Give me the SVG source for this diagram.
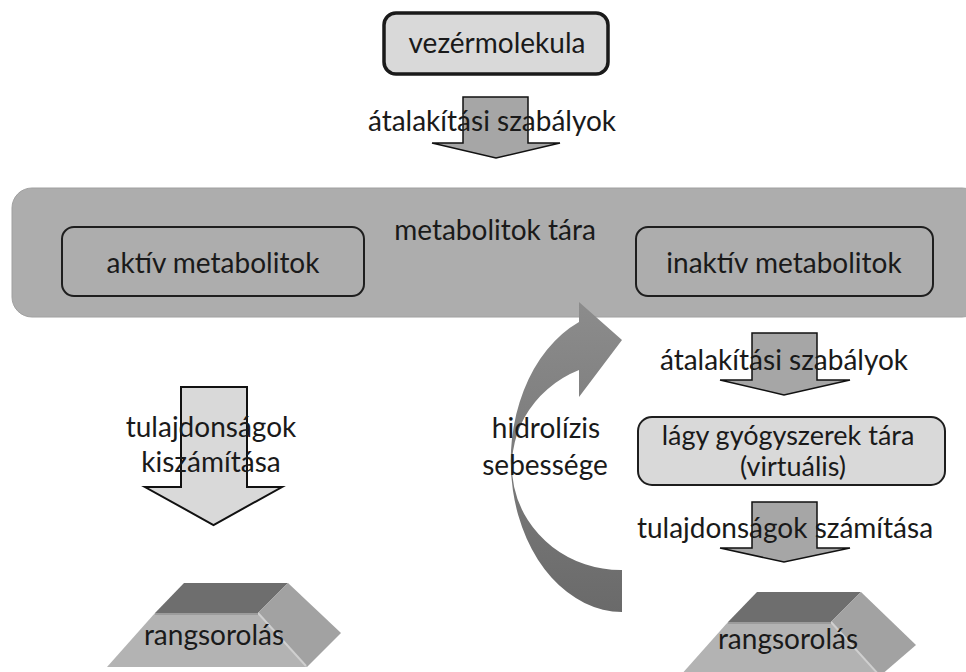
<svg xmlns="http://www.w3.org/2000/svg" width="966" height="672" viewBox="0 0 966 672">
<style>
text{font-family:Lato,"Liberation Sans",sans-serif;font-size:28px;fill:#1a1a1a;text-anchor:middle}
.box{fill:#d9d9d9;stroke:#1e1e1e;stroke-width:2}
.lead{fill:#d9d9d9;stroke:#1a1a1a;stroke-width:3.5}
.inner{fill:none;stroke:#1e1e1e;stroke-width:2}
.darr{fill:#a6a6a6;stroke:#111;stroke-width:1.5}
.larr{fill:#d9d9d9;stroke:#111;stroke-width:2}
.ptop{fill:#6e6e6e}
.pfront{fill:#b3b3b3}
.pright{fill:#a2a2a2}
.hl{stroke:#cfcfcf;stroke-width:2;fill:none}
.edge{stroke:#9c9c9c;stroke-width:2;fill:none}
.sm{font-size:27px}
</style>
<defs>
<linearGradient id="cg" x1="0" y1="302" x2="0" y2="612" gradientUnits="userSpaceOnUse">
<stop offset="0" stop-color="#8c8c8c"/>
<stop offset="1" stop-color="#6a6a6a"/>
</linearGradient>
</defs>
<rect width="966" height="672" fill="#ffffff"/>

<g id="pool">
<rect x="12" y="188" width="970" height="129" rx="20" fill="#adadad" stroke="#a0a0a0" stroke-width="1"/>
<text x="495" y="240">metabolitok tára</text>
</g>
<g id="active">
<rect class="inner" x="62" y="227" width="302" height="69" rx="12"/>
<text x="213" y="273">aktív metabolitok</text>
</g>
<g id="inactive">
<rect class="inner" x="636" y="227" width="297" height="69" rx="12"/>
<text x="784" y="273">inaktív metabolitok</text>
</g>

<g id="connectors">
<path class="darr" d="M463,97 H528 V143 H560 L496,158 L432,143 H463 Z"/>
<path class="larr" d="M181,387 H247 V487 H282 L213.5,525 L145,487 H181 Z"/>
<path class="darr" d="M752,333 H817 V380 H850 L784,395 L720,380 H752 Z"/>
<path class="darr" d="M752,502 H817 V548 H850 L784,562 L720,548 H752 Z"/>
<path id="hydrolysis-arrow" fill="url(#cg)" d="M622,612 A112,151 0 0 1 579,322 L579,302 L622,340 L579,397 L579,370 A109,104 0 0 0 622,570 Z"/>
</g>

<g id="lead">
<rect class="lead" x="384" y="13" width="224" height="61" rx="12"/>
<text x="497" y="53">vezérmolekula</text>
</g>
<g id="label-transform-top"><text x="492" y="131">átalakítási szabályok</text></g>
<g id="label-props-left"><text x="211" y="437">tulajdonságok</text><text x="211" y="472">kiszámítása</text></g>
<g id="label-hydrolysis"><text x="546" y="438">hidrolízis</text><text x="545" y="475">sebessége</text></g>
<g id="label-transform-right"><text x="784" y="370">átalakítási szabályok</text></g>
<g id="softdrugs">
<rect class="box" x="638" y="417" width="307" height="68" rx="14"/>
<text class="sm" x="788" y="445">lágy gyógyszerek tára</text>
<text class="sm" x="793" y="476">(virtuális)</text>
</g>
<g id="label-props-right"><text x="785" y="538">tulajdonságok számítása</text></g>

<g id="rank-left">
<polygon class="pfront" points="155,613 258,613 307,667 107,667"/>
<polygon class="ptop" points="184,583 288,583 258,613 155,613"/>
<polygon class="pright" points="288,583 341,633 307,667 258,613"/>
<line class="hl" x1="258" y1="613" x2="306" y2="666"/>
<line class="edge" x1="155" y1="614" x2="258" y2="614"/>
<text x="214" y="645">rangsorolás</text>
</g>
<g id="rank-right">
<polygon class="pfront" points="728,622 831,622 880,676 680,676"/>
<polygon class="ptop" points="757,592 861,592 831,622 728,622"/>
<polygon class="pright" points="861,592 916,645 880,676 831,622"/>
<line class="hl" x1="831" y1="622" x2="879" y2="675"/>
<line class="edge" x1="728" y1="623" x2="831" y2="623"/>
<text x="788" y="649">rangsorolás</text>
</g>
</svg>
